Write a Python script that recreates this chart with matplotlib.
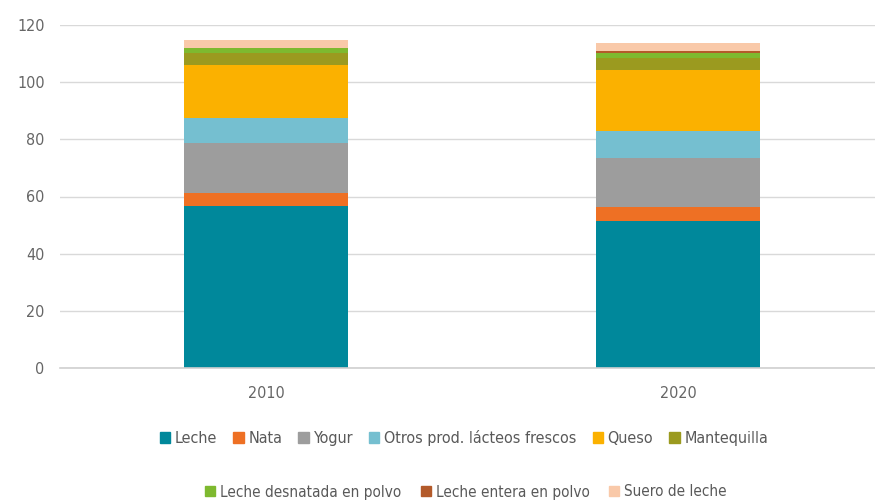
import matplotlib
matplotlib.use("Agg")
import matplotlib.pyplot as plt
from matplotlib.patches import Patch
import numpy as np

plt.rcParams['font.family'] = ['DejaVu Sans']
plt.rcParams['font.stretch'] = 'condensed'

years = ["2010", "2020"]
series = ["Leche", "Nata", "Yogur", "Otros prod. lácteos frescos", "Queso", "Mantequilla",
          "Leche desnatada en polvo", "Leche entera en polvo", "Suero de leche"]
leche = [56.7, 51.5]
nata = [4.6, 4.8]
yogur = [17.4, 17.2]
otros = [8.8, 9.5]
queso = [18.5, 21.3]
mantequilla = [4.1, 4.1]
desnatada = [1.7, 1.9]
entera = [0.3, 0.7]
suero = [2.6, 2.8]
values = [leche, nata, yogur, otros, queso, mantequilla, desnatada, entera, suero]
colors = ["#00889B", "#EE7024", "#9D9D9D", "#75BFD0", "#FBB100", "#9B9A1F",
          "#7EB92F", "#B35A2A", "#F9C9A9"]

W, H = 875, 501
fig = plt.figure(figsize=(W / 100, H / 100), dpi=100)
ax = fig.add_axes([60 / W, 1 - 368 / H, 815 / W, 343 / H])

x = np.arange(len(years))
bottom = np.zeros(len(years))
for vals, c, name in zip(values, colors, series):
    ax.bar(x, vals, 0.4, bottom=bottom, color=c, label=name, zorder=3)
    bottom += np.array(vals)

ax.set_xlim(-0.5, -0.5 + 815 / 412)
ax.set_ylim(0, 120)
ax.set_yticks(range(0, 121, 20))
ax.set_xticks(x)
ax.set_xticklabels(years)
ax.grid(axis='y', color='#D9D9D9', lw=1, zorder=0)
ax.axhline(0, color='#D0D0D0', lw=1.2, zorder=4, clip_on=False)
for s in ax.spines.values():
    s.set_visible(False)
ax.tick_params(axis='both', length=0, labelsize=11.5, colors='#666666')
ax.tick_params(axis='y', pad=11)
ax.tick_params(axis='x', pad=13)

handles = [Patch(color=c) for c in colors]
common = dict(loc='center', frameon=False, handlelength=0.65, handleheight=0.65,
              handletextpad=0.3, labelcolor='#595959')
leg1 = fig.legend(handles[:6], series[:6], ncol=6, bbox_to_anchor=(464 / W, 1 - 438 / H),
                  columnspacing=1.0, fontsize=11.5, **common)
leg2 = fig.legend(handles[6:], series[6:], ncol=3, bbox_to_anchor=(466 / W, 1 - 492 / H),
                  columnspacing=1.3, fontsize=11, **common)

fig.savefig("out.png", dpi=100)
